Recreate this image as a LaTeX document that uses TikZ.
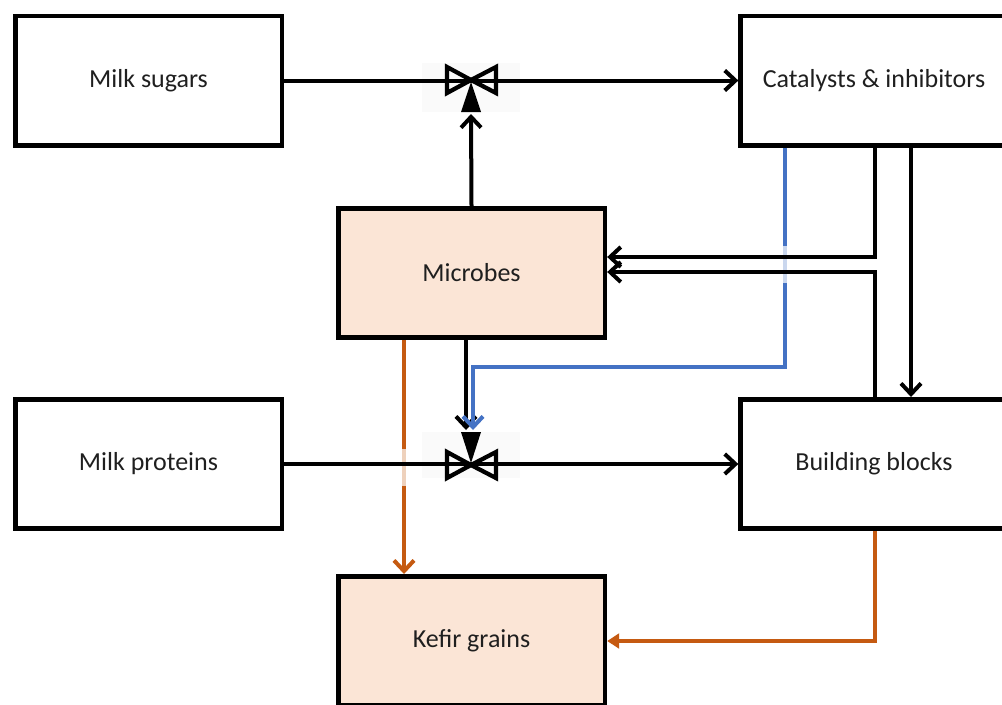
\documentclass[tikz,border=0pt]{standalone}
\usepackage{fontspec}
\setmainfont{Carlito}
\usetikzlibrary{arrows.meta}
\definecolor{peach}{HTML}{FBE5D6}
\definecolor{korange}{HTML}{C55A11}
\definecolor{kblue}{HTML}{4472C4}
\definecolor{valvebg}{HTML}{FAFAFA}
\tikzset{
  box/.style={draw=black, line width=3.5pt, minimum width=200pt, minimum height=97pt,
              font=\fontsize{19.5}{23}\selectfont, text=black!88, inner sep=0pt},
  fbox/.style={box, fill=peach},
  conn/.style={line width=3pt, line join=miter},
  arr/.style={conn, -{Straight Barb[length=8pt,width=15pt]}},
  oarr/.style={arr, draw=korange},
  barr/.style={arr, draw=kblue},
  ftri/.style={conn, draw=korange, -{Triangle[length=9pt,width=11pt]}},
  bowtie/.style={line width=3.2pt, line join=miter, draw=black},
  fade/.style={fill=white, fill opacity=0.72, draw=none},
}
\begin{document}
\begin{tikzpicture}[x=0.75pt, y=-0.75pt]
\useasboundingbox (0,0) rectangle (1002,704);
\clip (0,0) rectangle (1002,704);

% nodes
\node[box]  (ms)  at (148.5,80.5) {Milk sugars};
\node[box]  (ci)  at (874,80.5)   {Catalysts \& inhibitors};
\node[fbox] (mic) at (471.5,273)  {Microbes};
\node[box]  (mp)  at (148.5,464)  {Milk proteins};
\node[box]  (bb)  at (874,464)    {Building blocks};
\node[fbox] (kg)  at (471.5,641)  {Kefir grains};

% valve backgrounds
\fill[valvebg] (422,63) rectangle (520,112);
\fill[valvebg] (422,432) rectangle (520,478);

% coordinates
\coordinate (v1) at (471,80);
\coordinate (v2) at (471,465);
\coordinate (v1t) at (471,114);
\coordinate (v2k) at (466,430);
\coordinate (v2b) at (473,430);
\coordinate (bx) at (785,367);
\coordinate (cA) at (875,257);
\coordinate (cB) at (875,272);
\coordinate (cC) at (911,0);
\coordinate (oA) at (404,0);

% connectors
\draw[oarr] (mic.south -| oA) -- (kg.north -| oA);
\draw[ftri] (bb.south -| cA) |- (kg.east);
\draw[arr] (mic.south -| v2k) -- (v2k);
\draw[barr] (ci.south -| bx) -- (bx) -| (v2b);

% faded crossings
\fill[fade] (399,449) rectangle (409,486);
\fill[fade] (780,246) rectangle (790,283);

% black connectors
\draw[arr] (ms) -- (ci);
\draw[arr] (mp) -- (bb);
\draw[arr] (mic.north) -- (v1t);
\draw[arr] (ci.south -| cA) -- (cA) -- (mic.east |- cA);
\draw[arr] (bb.north -| cB) -- (cB) -- (mic.east |- cB);
\draw[arr] (ci.south -| cC) -- (bb.north -| cC);

% valves
\draw[bowtie] (v1) -- (447,67) -- (447,93) -- cycle;
\draw[bowtie] (v1) -- (496,67) -- (496,93) -- cycle;
\fill[black] (471,82) -- (461,112) -- (481,112) -- cycle;
\draw[bowtie] (v2) -- (447,452) -- (447,478) -- cycle;
\draw[bowtie] (v2) -- (496,452) -- (496,478) -- cycle;
\fill[black] (471,463) -- (461,432) -- (481,432) -- cycle;
\end{tikzpicture}
\end{document}
